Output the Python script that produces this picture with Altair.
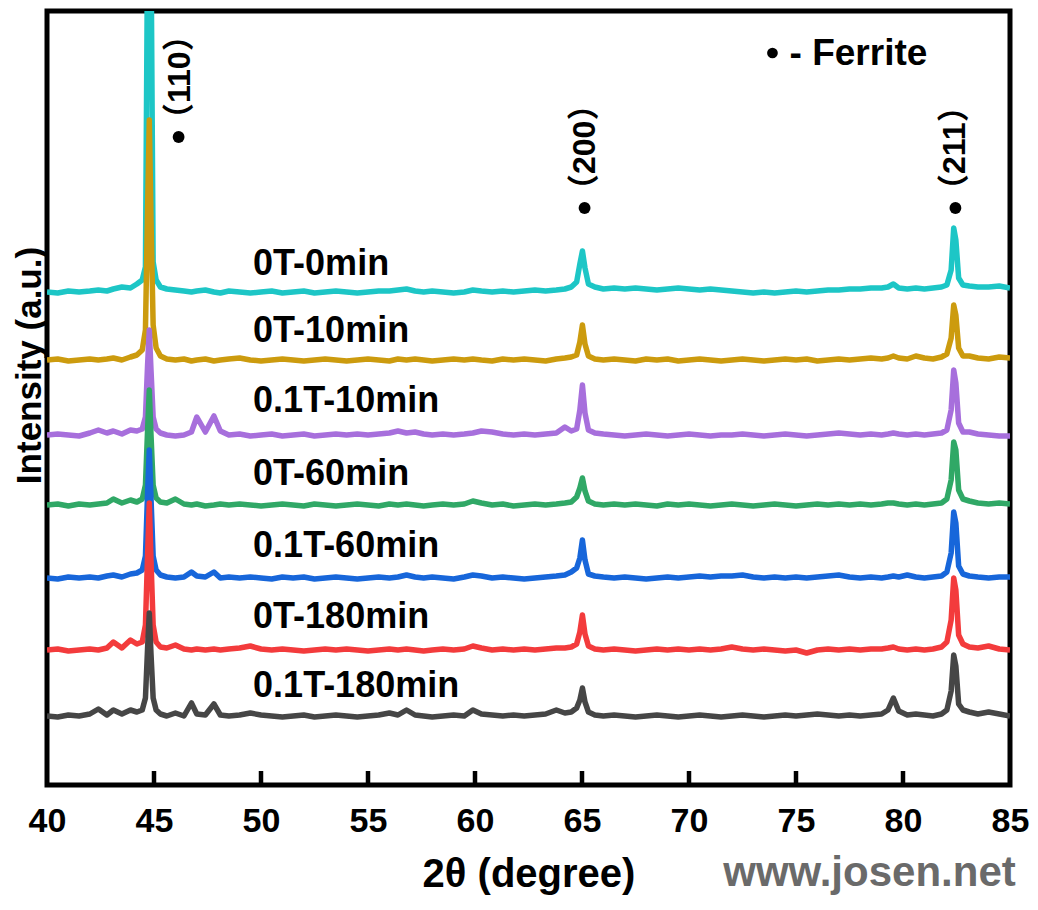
import altair as alt
import pandas as pd

# ---- shared 2-theta grid (degrees) ----
two_theta = [
    40.0, 40.5, 41.0, 41.5, 42.0, 42.4, 42.8, 43.1, 43.5, 43.9,
    44.2, 44.45, 44.6, 44.7, 44.78, 44.86, 44.96, 45.1, 45.3, 45.6,
    46.0, 46.4, 46.75, 47.0, 47.4, 47.8, 48.1, 48.5, 49.0, 49.5,
    50.0, 50.5, 51.0, 51.5, 52.0, 52.5, 53.0, 53.5, 54.0, 54.5,
    55.0, 55.5, 56.0, 56.4, 56.8, 57.2, 57.6, 58.0, 58.5, 59.0,
    59.5, 59.9, 60.3, 60.8, 61.3, 61.8, 62.3, 62.8, 63.3, 63.8,
    64.2, 64.5, 64.75, 64.9, 65.02, 65.14, 65.3, 65.6, 66.0, 66.5,
    67.0, 67.5, 68.0, 68.5, 69.0, 69.5, 70.0, 70.5, 71.0, 71.5,
    72.0, 72.5, 73.0, 73.5, 74.0, 74.5, 75.0, 75.5, 76.0, 76.5,
    77.0, 77.5, 78.0, 78.5, 79.0, 79.3, 79.55, 79.8, 80.2, 80.6,
    81.0, 81.4, 81.8, 82.05, 82.25, 82.37, 82.47, 82.6, 82.8, 83.1,
    83.5, 84.0, 84.5, 85.0,
]

series_names = ["0T-0min", "0T-10min", "0.1T-10min", "0T-60min",
                "0.1T-60min", "0T-180min", "0.1T-180min"]
series_colors = ["#1dc6c6", "#cc9b0e", "#a76fdc", "#30a866",
                 "#1766da", "#f33b3c", "#464646"]
series_offsets = [493, 425, 350, 280, 207, 135, 69]

int_0T_0min = [
    0, -1, 1, 0, 1, 2, 1, 3, 5, 4,
    8, 12, 25, 350, 800, 350, 30, 12, 5, 3,
    2, 1, 0, 1, 2, 0, -1, 1, 0, -1,
    0, 1, -1, 0, 1, -1, 0, 1, 0, -1,
    0, 1, 1, 2, 3, 1, 0, 1, 0, -1,
    0, 2, 1, 0, 1, 0, 1, 2, 1, 2,
    3, 5, 10, 28, 41, 24, 8, 5, 3, 4,
    3, 4, 3, 2, 3, 4, 3, 2, 3, 2,
    1, 0, -1, 0, -1, 0, 1, 0, 1, 2,
    2, 3, 3, 4, 4, 5, 8, 4, 3, 4,
    3, 4, 5, 7, 22, 64, 52, 14, 7, 6,
    5, 5, 6, 4,
]
int_0T_10min = [
    0, 1, -1, 0, 1, 0, 1, 2, 0, 3,
    5, 10, 30, 150, 240, 140, 35, 12, 4, 1,
    0, 1, -1, 0, 1, -1, 0, 1, 2, 0,
    -1, 0, 1, 0, -1, 0, 1, 0, -1, 0,
    1, 0, -1, 1, 0, 1, 0, -1, 0, 1,
    0, 1, 0, -1, 1, 0, 1, 0, -1, 1,
    2, 3, 5, 18, 35, 16, 4, 1, 0, 1,
    0, -1, 1, 0, 1, -1, 0, 1, 0, -1,
    0, 1, 0, -1, 0, 1, 0, 1, -1, 0,
    1, 0, 1, 2, 1, 2, 4, 2, 1, 4,
    2, 1, 3, 6, 22, 55, 45, 12, 4, 4,
    2, 1, 3, 2,
]
int_01T_10min = [
    0, 1, 0, -1, 2, 5, 2, 4, 1, 5,
    4, 6, 18, 70, 105, 65, 18, 6, 2, 0,
    -1, 0, 3, 18, 3, 19, 4, 0, 1, -1,
    0, 1, -1, 0, 1, -1, 0, 1, 0, 1,
    0, 1, 2, 4, 2, 3, 1, 0, 1, 0,
    1, 2, 4, 3, 1, 0, 1, 0, 1, 2,
    8, 4, 6, 25, 50, 22, 5, 2, 1, 0,
    -1, 0, 1, 0, -1, 0, 1, 0, -1, 0,
    0, 1, 0, -1, 0, 1, 0, -1, 0, 1,
    2, 1, 0, 1, 0, 1, 2, 1, 0, 1,
    0, 1, 2, 5, 25, 65, 52, 12, 3, 3,
    1, 0, -1, -1,
]
int_0T_60min = [
    0, 1, -1, 1, 0, 1, 2, 6, 2, 5,
    3, 6, 20, 75, 115, 70, 20, 7, 3, 2,
    6, 1, 0, 1, -1, 0, 1, 0, 1, 0,
    -1, 0, 1, 0, -1, 1, 0, -1, 0, 1,
    0, -1, 1, 0, 1, 0, -1, 0, 1, 0,
    1, 4, 2, 0, 1, -1, 0, 1, 0, 1,
    2, 3, 8, 17, 27, 14, 4, 1, 0, 1,
    0, 1, 0, -1, 1, 0, 1, 0, -1, 0,
    1, 0, -1, 0, 1, 0, -1, 0, 1, 0,
    1, 0, 1, 0, 1, 2, 2, 1, 0, 1,
    0, 1, 2, 6, 25, 63, 55, 15, 6, 4,
    2, 1, 2, 1,
]
int_01T_60min = [
    0, -1, 1, 0, 1, 0, 2, 3, 1, 4,
    5, 8, 22, 85, 128, 80, 22, 8, 3, 1,
    0, 1, 6, 2, 1, 6, 0, 1, 0, 1,
    0, -1, 1, 0, 1, -1, 0, 1, 0, -1,
    0, 1, 0, 1, 3, 1, 0, 1, 0, -1,
    1, 3, 2, 0, 1, 0, -1, 0, 1, 2,
    3, 6, 10, 20, 38, 18, 4, 2, 1, 0,
    1, 0, -1, 0, 1, 0, 1, 2, 1, 2,
    2, 3, 1, 0, 1, 0, 1, 0, 1, 2,
    3, 1, 0, 1, 0, 1, 2, 1, 3, 1,
    0, 1, 2, 6, 25, 66, 55, 12, 4, 2,
    1, 0, 1, 1,
]
int_0T_180min = [
    0, 1, -1, 0, 1, 0, 2, 8, 2, 10,
    6, 8, 25, 95, 147, 90, 25, 8, 3, 2,
    5, 1, 0, 1, 0, 1, 0, 1, 2, 4,
    1, 0, 1, 0, -1, 0, 1, 0, 1, 0,
    -1, 0, 1, 0, 1, 0, -1, 0, 1, 0,
    1, 4, 2, 0, 1, 0, 1, 0, 1, 2,
    2, 3, 6, 18, 35, 16, 4, 1, 0, 1,
    0, -1, 0, 1, 0, 1, 0, 1, 0, 1,
    3, 1, 0, 1, 0, -1, 0, -3, 0, 1,
    0, 1, 0, 1, 1, 2, 3, 1, 0, 1,
    0, 1, 3, 8, 30, 72, 60, 15, 6, 3,
    2, 4, 1, 0,
]
int_01T_180min = [
    0, -1, 1, 0, 2, 7, 1, 6, 2, 6,
    4, 6, 18, 68, 103, 62, 18, 6, 2, 0,
    3, 0, 13, 2, 1, 12, 1, 0, 1, 3,
    1, 0, -1, 0, 1, -1, 0, 1, 0, -1,
    0, 1, 3, 1, 6, 1, 0, -1, 0, 1,
    0, 6, 2, 1, 0, 1, 0, 1, 2, 6,
    3, 4, 8, 16, 28, 14, 4, 1, 0, 1,
    0, -1, 0, 1, 0, -1, 0, 1, 0, -1,
    0, 1, 0, -1, 0, 1, 0, 1, 2, 1,
    0, 1, 0, 1, 2, 6, 18, 5, 1, 2,
    1, 0, 2, 6, 25, 61, 50, 12, 6, 4,
    2, 4, 2, 0,
]

series_values = [int_0T_0min, int_0T_10min, int_01T_10min, int_0T_60min,
                 int_01T_60min, int_0T_180min, int_01T_180min]

# ---- annotations ----
label_x = 49.63
label_y = [510, 443, 373, 300, 228, 157, 88]

peak_texts = ["（110）", "（200）", "（211）"]
peak_text_x = [46.2, 65.12, 82.45]
peak_text_y = [650, 579, 579]

bullet_x = [46.15, 65.12, 82.45, 73.9]
bullet_y = [648, 577, 577, 732]
bullet_size = [140, 140, 140, 115]

tick_values = [45, 50, 55, 60, 65, 70, 75, 80]
axis_values = [40, 45, 50, 55, 60, 65, 70, 75, 80, 85]

FONT = "Liberation Sans, Arial, Noto Sans CJK SC, sans-serif"

rows = []
for order, (name, vals, off) in enumerate(zip(series_names, series_values, series_offsets)):
    for i, (t, v) in enumerate(zip(two_theta, vals)):
        rows.append({"series": name, "order": order, "idx": i, "theta": t, "y": v + off})
df = pd.DataFrame(rows)

xscale = alt.Scale(domain=[40, 85], nice=False, zero=False)
yscale = alt.Scale(domain=[0, 774], nice=False, zero=False)

lines = alt.Chart(df).mark_line(strokeWidth=5.5, clip=True, strokeJoin="round").encode(
    x=alt.X("theta:Q", scale=xscale,
            axis=alt.Axis(values=axis_values, title="2θ (degree)", ticks=False, domain=False,
                          grid=False, labelFontSize=34, labelFontWeight="bold", labelFont=FONT,
                          labelColor="black", labelPadding=19, labelFlush=False,
                          titleFontSize=40, titleFontWeight="bold", titleFont=FONT,
                          titleColor="black", titleY=101, titleBaseline="alphabetic")),
    y=alt.Y("y:Q", scale=yscale,
            axis=alt.Axis(title="Intensity (a.u.)", labels=False, ticks=False, domain=False,
                          grid=False, titleFontSize=35, titleFontWeight="bold", titleFont=FONT,
                          titleColor="black", titleX=-7, titleY=354, titleAngle=270,
                          titleAlign="center", titleBaseline="alphabetic")),
    color=alt.Color("series:N", scale=alt.Scale(domain=series_names, range=series_colors),
                    legend=None),
    detail="series:N",
    order="idx:Q",
)

lab_df = pd.DataFrame({"text": series_names, "x": [label_x] * 7, "y": label_y})
labels = alt.Chart(lab_df).mark_text(
    align="left", baseline="alphabetic", fontSize=36, fontWeight="bold", font=FONT, color="black"
).encode(x=alt.X("x:Q", scale=xscale), y=alt.Y("y:Q", scale=yscale), text="text:N")

peak_df = pd.DataFrame({"text": peak_texts, "x": peak_text_x, "y": peak_text_y})
peaks = alt.Chart(peak_df).mark_text(
    align="left", baseline="middle", angle=270, fontSize=32, fontWeight="bold",
    font=FONT, color="black"
).encode(x=alt.X("x:Q", scale=xscale), y=alt.Y("y:Q", scale=yscale), text="text:N")

bul_df = pd.DataFrame({"x": bullet_x, "y": bullet_y, "s": bullet_size})
bullets = alt.Chart(bul_df).mark_point(shape="circle", filled=True, color="black", opacity=1).encode(
    x=alt.X("x:Q", scale=xscale), y=alt.Y("y:Q", scale=yscale),
    size=alt.Size("s:Q", scale=None, legend=None)
)

leg_df = pd.DataFrame({"text": ["- Ferrite"], "x": [74.7], "y": [720]})
legend_txt = alt.Chart(leg_df).mark_text(
    align="left", baseline="alphabetic", fontSize=37, fontWeight="bold", font=FONT, color="black"
).encode(x=alt.X("x:Q", scale=xscale), y=alt.Y("y:Q", scale=yscale), text="text:N")

wm_df = pd.DataFrame({"text": ["www.josen.net"], "x": [71.6], "y": [-101]})
watermark = alt.Chart(wm_df).mark_text(
    align="left", baseline="alphabetic", fontSize=42, fontWeight="bold", font=FONT,
    color="#6a6a6a"
).encode(x=alt.X("x:Q", scale=xscale), y=alt.Y("y:Q", scale=yscale), text="text:N")

tick_df = pd.DataFrame({"x": tick_values, "y0": [0] * len(tick_values), "y1": [14] * len(tick_values)})
ticks = alt.Chart(tick_df).mark_rule(strokeWidth=4.5, color="black").encode(
    x=alt.X("x:Q", scale=xscale), y=alt.Y("y0:Q", scale=yscale), y2="y1:Q"
)

chart = alt.layer(lines, ticks, labels, peaks, bullets, legend_txt, watermark).properties(
    width=963, height=774,
    autosize=alt.AutoSizeParams(type="none"),
    padding={"left": 39, "top": 3, "right": 20, "bottom": 110},
).configure_view(stroke="black", strokeWidth=5)

chart.save("out.html", embed_options={"renderer": "svg", "actions": False})
